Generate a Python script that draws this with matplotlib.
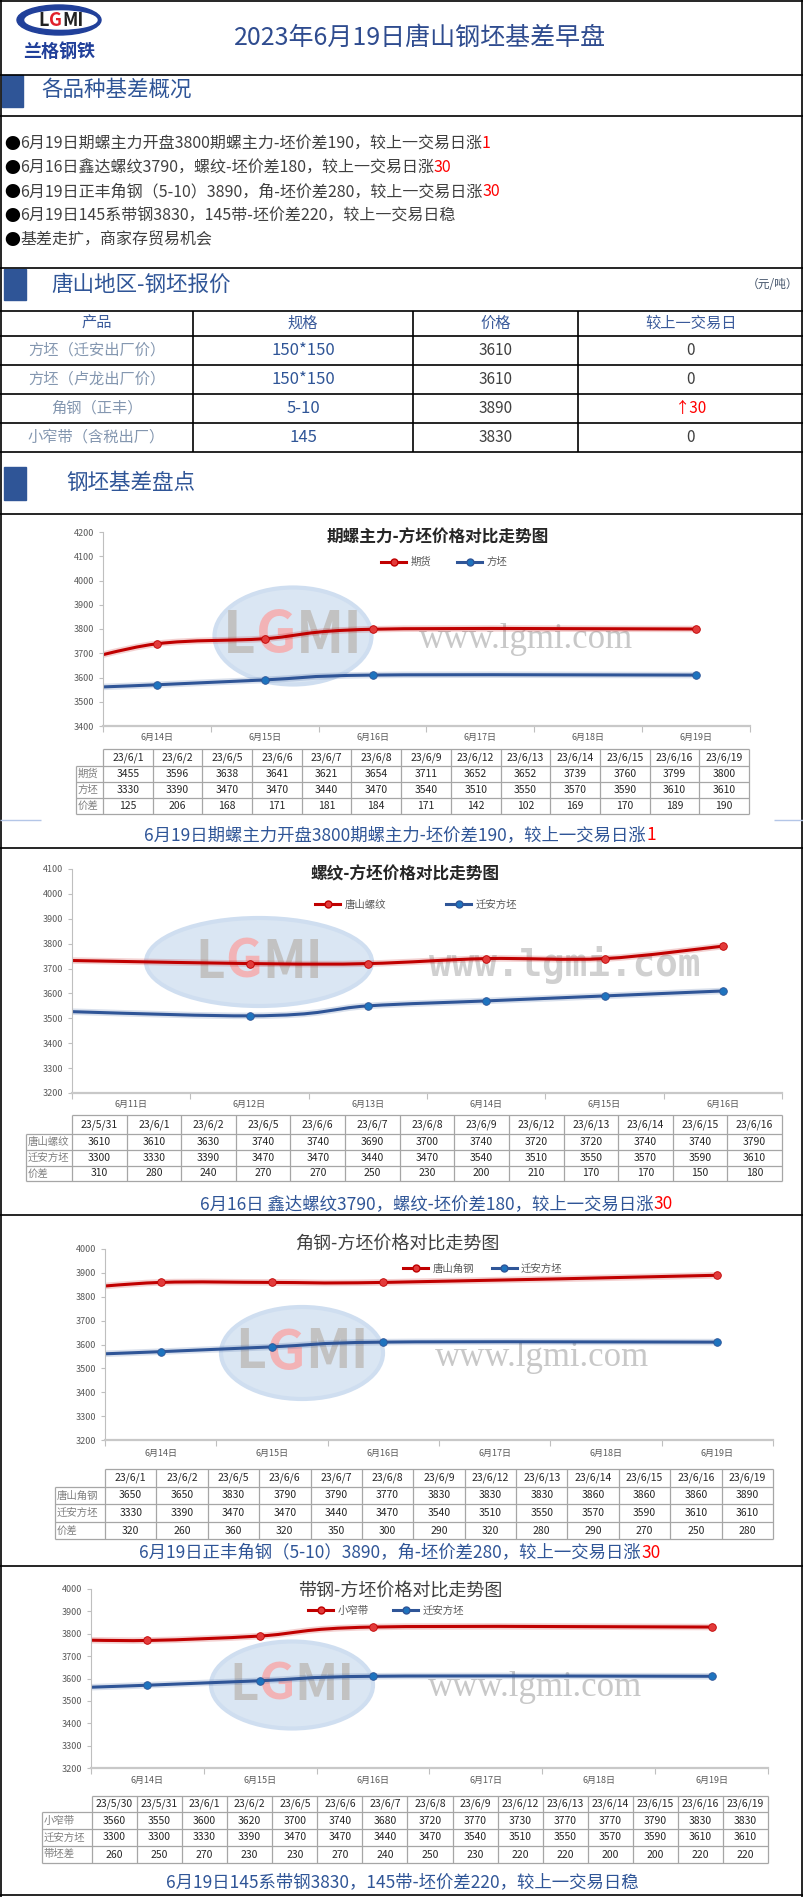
import matplotlib
matplotlib.use('Agg')
import matplotlib.pyplot as plt
import numpy as np
from matplotlib.path import Path
from matplotlib.patches import PathPatch, Rectangle, Ellipse
from matplotlib.lines import Line2D

plt.rcParams['font.family'] = ['Noto Sans CJK SC', 'DejaVu Sans']

# ---------------- 数据 ----------------
title_main = '2023年6月19日唐山钢坯基差早盘'

bullets = [
    [('6月19日期螺主力开盘3800期螺主力-坯价差190，较上一交易日涨', '#404040'), ('1', '#FF0000')],
    [('6月16日鑫达螺纹3790，螺纹-坯价差180，较上一交易日涨', '#404040'), ('30', '#FF0000')],
    [('6月19日正丰角钢（5-10）3890，角-坯价差280，较上一交易日涨', '#404040'), ('30', '#FF0000')],
    [('6月19日145系带钢3830，145带-坯价差220，较上一交易日稳', '#404040')],
    [('基差走扩，商家存贸易机会', '#404040')],
]

price_head = ['产品', '规格', '价格', '较上一交易日']
products = ['方坯（迁安出厂价）', '方坯（卢龙出厂价）', '角钢（正丰）', '小窄带（含税出厂）']
specs = ['150*150', '150*150', '5-10', '145']
prices = [3610, 3610, 3890, 3830]
changes = ['0', '0', '↑30', '0']

# 图1 期螺主力-方坯
dates1 = ['23/6/1', '23/6/2', '23/6/5', '23/6/6', '23/6/7', '23/6/8', '23/6/9',
          '23/6/12', '23/6/13', '23/6/14', '23/6/15', '23/6/16', '23/6/19']
fut1 = [3455, 3596, 3638, 3641, 3621, 3654, 3711, 3652, 3652, 3739, 3760, 3799, 3800]
billet1 = [3330, 3390, 3470, 3470, 3440, 3470, 3540, 3510, 3550, 3570, 3590, 3610, 3610]
diff1 = [125, 206, 168, 171, 181, 184, 171, 142, 102, 169, 170, 189, 190]
cats1 = [14, 15, 16, 17, 18, 19]

# 图2 螺纹-方坯
dates2 = ['23/5/31', '23/6/1', '23/6/2', '23/6/5', '23/6/6', '23/6/7', '23/6/8',
          '23/6/9', '23/6/12', '23/6/13', '23/6/14', '23/6/15', '23/6/16']
rebar2 = [3610, 3610, 3630, 3740, 3740, 3690, 3700, 3740, 3720, 3720, 3740, 3740, 3790]
billet2 = [3300, 3330, 3390, 3470, 3470, 3440, 3470, 3540, 3510, 3550, 3570, 3590, 3610]
diff2 = [310, 280, 240, 270, 270, 250, 230, 200, 210, 170, 170, 150, 180]
cats2 = [11, 12, 13, 14, 15, 16]

# 图3 角钢-方坯
dates3 = ['23/6/1', '23/6/2', '23/6/5', '23/6/6', '23/6/7', '23/6/8', '23/6/9',
          '23/6/12', '23/6/13', '23/6/14', '23/6/15', '23/6/16', '23/6/19']
angle3 = [3650, 3650, 3830, 3790, 3790, 3770, 3830, 3830, 3830, 3860, 3860, 3860, 3890]
billet3 = [3330, 3390, 3470, 3470, 3440, 3470, 3540, 3510, 3550, 3570, 3590, 3610, 3610]
diff3 = [320, 260, 360, 320, 350, 300, 290, 320, 280, 290, 270, 250, 280]
cats3 = [14, 15, 16, 17, 18, 19]

# 图4 带钢-方坯
dates4 = ['23/5/30', '23/5/31', '23/6/1', '23/6/2', '23/6/5', '23/6/6', '23/6/7', '23/6/8',
          '23/6/9', '23/6/12', '23/6/13', '23/6/14', '23/6/15', '23/6/16', '23/6/19']
strip4 = [3560, 3550, 3600, 3620, 3700, 3740, 3680, 3720, 3770, 3730, 3770, 3770, 3790, 3830, 3830]
billet4 = [3300, 3300, 3330, 3390, 3470, 3470, 3440, 3470, 3540, 3510, 3550, 3570, 3590, 3610, 3610]
diff4 = [260, 250, 270, 230, 230, 270, 240, 250, 230, 220, 220, 200, 200, 220, 220]
cats4 = [14, 15, 16, 17, 18, 19]

captions = [
    [('6月19日期螺主力开盘3800期螺主力-坯价差190，较上一交易日涨', '#2F5597'), ('1', '#FF0000')],
    [('6月16日 鑫达螺纹3790，螺纹-坯价差180，较上一交易日涨', '#2F5597'), ('30', '#FF0000')],
    [('6月19日正丰角钢（5-10）3890，角-坯价差280，较上一交易日涨', '#2F5597'), ('30', '#FF0000')],
    [('6月19日145系带钢3830，145带-坯价差220，较上一交易日稳', '#2F5597')],
]

RED, RED_M = '#C00000', '#E23B3B'
BLUE, BLUE_M = '#2F5597', '#1E73BE'
HEAD = '#2F5597'

W, H = 804, 1897
fig = plt.figure(figsize=(W / 100, H / 100), dpi=100)
bg = fig.add_axes([0, 0, 1, 1])
bg.set_xlim(0, W)
bg.set_ylim(H, 0)
bg.axis('off')
rend = fig.canvas.get_renderer()


def rich(x, y, parts, size, ha='left', **kw):
    ts = [bg.text(0, y, s, color=c, fontsize=size, va='center', ha='left', **kw)
          for s, c in parts]
    ws = [t.get_window_extent(rend).width for t in ts]
    start = x - sum(ws) / 2 if ha == 'center' else x
    for t, w in zip(ts, ws):
        t.set_x(start)
        start += w


def hline(y, x0=0, x1=W, c='black', lw=1.2):
    bg.plot([x0, x1], [y, y], color=c, lw=lw, solid_capstyle='butt')


def vline(x, y0, y1, c='black', lw=1.2):
    bg.plot([x, x], [y0, y1], color=c, lw=lw, solid_capstyle='butt')


def section(y0, y1, x0, x1, text, ty, tx):
    bg.add_patch(Rectangle((x0, y0), x1 - x0, y1 - y0, color='#2F5597'))
    bg.text(tx, ty, text, fontsize=15.5, color=HEAD, va='center', ha='left')


# ---------------- 外框 ----------------
for y in [1, 75, 116, 268, 311, 452, 514, 848, 1215, 1566, 1895]:
    hline(y)
vline(1, 0, H)
vline(802.5, 0, H)

# logo
bg.add_patch(Ellipse((59, 20), 84, 30, color='#21409A'))
bg.add_patch(Ellipse((61, 20), 72, 18, color='white'))
rich(61, 20, [('L', '#222222'), ('G', '#E0202A'), ('MI', '#222222')], 13, ha='center',
     fontweight='bold')
bg.text(59, 52, '兰格钢铁', fontsize=13, fontweight='bold', color='#21409A', va='center', ha='center')

bg.text(420, 38, title_main, fontsize=18, color='#2F4C8F', va='center', ha='center')

# ---------------- 各品种基差概况 ----------------
section(75, 107, 2, 23, '各品种基差概况', 90, 41)
for i, parts in enumerate(bullets):
    rich(4, 144 + 24 * i, [('●', 'black')] + parts, 11.5)

# ---------------- 钢坯报价 ----------------
section(269, 300, 4, 26, '唐山地区-钢坯报价', 285, 51)
bg.text(798, 285, '（元/吨）', fontsize=8.5, color='#44546A', va='center', ha='right')
row_edges = [311, 336, 365, 394, 423, 452]
col_edges = [0, 193, 413, 578, W]
for y in row_edges[1:-1]:
    hline(y)
for x in col_edges[1:-1]:
    vline(x, row_edges[0], row_edges[-1])
cx = [(col_edges[i] + col_edges[i + 1]) / 2 for i in range(4)]
for j, s in enumerate(price_head):
    bg.text(cx[j], (row_edges[0] + row_edges[1]) / 2, s, fontsize=11, color='#3A5A9A',
            va='center', ha='center')
for i in range(len(products)):
    yc = (row_edges[i + 1] + row_edges[i + 2]) / 2
    bg.text(cx[0], yc, products[i], fontsize=11, color='#8497B0', va='center', ha='center')
    bg.text(cx[1], yc, specs[i], fontsize=12, color='#2F5597', va='center', ha='center')
    bg.text(cx[2], yc, str(prices[i]), fontsize=11, color='#404040', va='center', ha='center')
    bg.text(cx[3], yc, changes[i], fontsize=11, va='center', ha='center',
            color='#FF0000' if changes[i].startswith('↑') else '#404040')

section(467, 500, 4, 26, '钢坯基差盘点', 483, 66)


# ---------------- 图表工具 ----------------
def day_of(d):
    _, m, dd = d.split('/')
    return int(dd) if m == '6' else int(dd) - 31


def smooth(ax, xs, ys, color, lw):
    pts = np.column_stack([xs, ys]).astype(float)
    verts, codes = [pts[0]], [Path.MOVETO]
    n = len(pts)
    for i in range(n - 1):
        p0, p1 = pts[max(i - 1, 0)], pts[i]
        p2, p3 = pts[i + 1], pts[min(i + 2, n - 1)]
        verts += [p1 + (p2 - p0) / 6, p2 - (p3 - p1) / 6, p2]
        codes += [Path.CURVE4] * 3
    path = Path(verts, codes)
    ax.add_patch(PathPatch(path, fill=False, edgecolor=color, lw=lw + 2.5, alpha=0.18,
                           capstyle='round'))
    ax.add_patch(PathPatch(path, fill=False, edgecolor=color, lw=lw, capstyle='round'))


def watermark(cx, cy, ew, eh, wx, wy, mono=False):
    bg.add_patch(Ellipse((cx, cy), ew, eh, facecolor='#DAE6F3', edgecolor='#CFDEF0', lw=3))
    rich(cx, cy, [('L', '#C2C2C2'), ('G', '#F2B3B6'), ('MI', '#C2C2C2')], eh * 0.42,
         ha='center', fontweight='bold', style='italic')
    if mono:
        bg.text(wx, wy, 'www.lgmi.com', fontsize=27, fontweight='bold', color='#D0D0D0',
                family='DejaVu Sans Mono', va='center', ha='center')
    else:
        bg.text(wx, wy, 'www.lgmi.com', fontsize=25, color='#C8C8C8',
                family='Liberation Serif', va='center', ha='center')


def chart(box, ylim, cats, dates, s_red, s_blue, names, title, title_xy, title_kw,
          leg_xy, colsp, lab_pad):
    x0, y0, x1, y1 = box
    ax = fig.add_axes([x0 / W, 1 - y1 / H, (x1 - x0) / W, (y1 - y0) / H])
    ax.patch.set_alpha(0)
    xs = np.array([day_of(d) - cats[0] for d in dates])
    smooth(ax, xs, s_red, RED, 2.2)
    smooth(ax, xs, s_blue, BLUE, 2.2)
    ax.plot(xs, s_red, 'o', ms=5.5, mfc=RED_M, mec=RED, mew=0.6)
    ax.plot(xs, s_blue, 'o', ms=5.5, mfc=BLUE_M, mec=BLUE, mew=0.6)
    ax.set_xlim(-0.5, len(cats) - 0.5)
    ax.set_ylim(*ylim)
    ax.set_yticks(np.arange(ylim[0], ylim[1] + 1, 100))
    ax.set_xticks(np.arange(-0.5, len(cats), 1))
    ax.set_xticklabels([])
    ax.set_xticks(np.arange(len(cats)), minor=True)
    ax.set_xticklabels(['6月%d日' % c for c in cats], minor=True)
    for s in ['top', 'right']:
        ax.spines[s].set_visible(False)
    ax.spines['left'].set_color('#BFBFBF')
    ax.spines['bottom'].set_color('#C8C8C8')
    ax.spines['bottom'].set_linewidth(1.6)
    ax.tick_params(axis='y', labelsize=6.5, labelcolor='#595959', color='#BFBFBF', length=3)
    ax.tick_params(axis='x', which='major', color='#BFBFBF', length=4)
    ax.tick_params(axis='x', which='minor', length=0, labelsize=6.5, labelcolor='#595959',
                   pad=lab_pad)
    bg.text(title_xy[0], title_xy[1], title, va='center', ha='center', **title_kw)
    hs = [Line2D([], [], color=RED, lw=2.2, marker='o', ms=5, mfc=RED_M, mec=RED),
          Line2D([], [], color=BLUE, lw=2.2, marker='o', ms=5, mfc=BLUE_M, mec=BLUE)]
    ax.legend(hs, names, loc='center', bbox_to_anchor=(leg_xy[0] / W, 1 - leg_xy[1] / H),
              bbox_transform=fig.transFigure, ncol=2, frameon=False, fontsize=7.5,
              handlelength=2.4, handletextpad=0.4, columnspacing=colsp, labelcolor='#595959')
    return ax


def table(xl, x0, x1, ys, dates, rows):
    n = len(dates)
    xe = np.linspace(x0, x1, n + 1)
    gc = '#A6A6A6'
    hline(ys[0], x0, x1, gc, 0.9)
    for y in ys[1:]:
        hline(y, xl, x1, gc, 0.9)
    vline(xl, ys[1], ys[-1], gc, 0.9)
    for x in xe:
        vline(x, ys[0], ys[-1], gc, 0.9)
    for j, d in enumerate(dates):
        bg.text((xe[j] + xe[j + 1]) / 2, (ys[0] + ys[1]) / 2, d, fontsize=7.5, color='#262626',
                va='center', ha='center')
    for i, (lab, vals) in enumerate(rows):
        yc = (ys[i + 1] + ys[i + 2]) / 2
        bg.text(xl + 1.5, yc, lab, fontsize=7.5, color='#7F7F7F', va='center', ha='left')
        for j, v in enumerate(vals):
            bg.text((xe[j] + xe[j + 1]) / 2, yc, str(v), fontsize=7.5, color='#262626',
                    va='center', ha='center')


bold_title = dict(fontsize=12, fontweight='bold', color='#262626')
light_title = dict(fontsize=13, color='#404040')

# ---------------- 图1 ----------------
watermark(293, 636, 157, 97, 526, 640)
chart((103, 532, 750, 726), (3400, 4200), cats1, dates1, fut1, billet1, ['期货', '方坯'],
      '期螺主力-方坯价格对比走势图', (438, 538), bold_title, (444, 562), 2.5, 5)
table(76, 103, 749, [749, 766, 782, 798, 814], dates1,
      [('期货', fut1), ('方坯', billet1), ('价差', diff1)])
hline(820, 0, 41, '#B4C6E7', 1)
hline(820, 774, 804, '#B4C6E7', 1)
rich(400, 835, captions[0], 12.5, ha='center')

# ---------------- 图2 ----------------
watermark(259, 962, 226, 88, 565, 965, mono=True)
chart((72, 869, 782, 1093), (3200, 4100), cats2, dates2, rebar2, billet2, ['唐山螺纹', '迁安方坯'],
      '螺纹-方坯价格对比走势图', (405, 874), bold_title, (416, 905), 5.8, 5)
table(26, 72, 782, [1115, 1134, 1150, 1166, 1181], dates2,
      [('唐山螺纹', rebar2), ('迁安方坯', billet2), ('价差', diff2)])
rich(436, 1204, captions[1], 12.5, ha='center')

# ---------------- 图3 ----------------
watermark(302, 1353, 162, 92, 542, 1357)
chart((105, 1249, 773, 1440), (3200, 4000), cats3, dates3, angle3, billet3, ['唐山角钢', '迁安方坯'],
      '角钢-方坯价格对比走势图', (397, 1245), light_title, (483, 1269), 1.7, 6.5)
table(55, 105, 773, [1469, 1487, 1504, 1522, 1539], dates3,
      [('唐山角钢', angle3), ('迁安方坯', billet3), ('价差', diff3)])
rich(400, 1553, captions[2], 12.5, ha='center')

# ---------------- 图4 ----------------
watermark(292, 1685, 162, 87, 535, 1688)
chart((91, 1589, 768, 1768), (3200, 4000), cats4, dates4, strip4, billet4, ['小窄带', '迁安方坯'],
      '带钢-方坯价格对比走势图', (400, 1592), light_title, (386, 1611), 2.4, 6)
table(42, 92, 768, [1796, 1812, 1829, 1846, 1863], dates4,
      [('小窄带', strip4), ('迁安方坯', billet4), ('带坯差', diff4)])
rich(402, 1882, captions[3], 12.5, ha='center')

fig.savefig('out.png', dpi=100)
